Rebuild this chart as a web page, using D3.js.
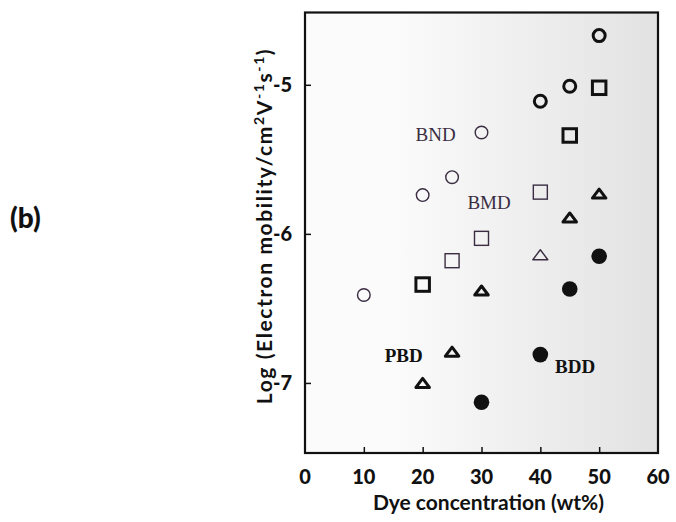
<!DOCTYPE html>
<html>
<head>
<meta charset="utf-8">
<script src="https://cdn.jsdelivr.net/npm/d3@7"></script>
<style>
  body { margin: 0; background: #fff; }
  svg { display: block; }
</style>
</head>
<body>
<div id="chart"></div>
<script>
// dye concentration (wt%) and log mobility
const bndThinX = [10, 20, 25, 30];
const bndThinY = [-6.41, -5.74, -5.62, -5.32];
const bndBoldX = [40, 45, 50];
const bndBoldY = [-5.11, -5.01, -4.67];

const bmdThinX = [25, 30, 40];
const bmdThinY = [-6.18, -6.03, -5.72];
const bmdBoldX = [20, 45, 50];
const bmdBoldY = [-6.34, -5.34, -5.02];

const pbdThinX = [40];
const pbdThinY = [-6.14];
const pbdBoldX = [20, 25, 30, 45, 50];
const pbdBoldY = [-7.0, -6.79, -6.38, -5.89, -5.73];

const bddX = [30, 40, 45, 50];
const bddY = [-7.13, -6.81, -6.37, -6.15];

const xTicks = [0, 10, 20, 30, 40, 50, 60];
const yTicks = [-7, -6, -5];

// series labels: [text, x, y, anchor, bold]
const labels = [
  ["BND", 25.6, -5.38, "end", false],
  ["BMD", 27.6, -5.83, "start", false],
  ["PBD", 20.0, -6.86, "end", true],
  ["BDD", 42.5, -6.93, "start", true]
];

const W = 676, H = 522;
const thin = "#3a2d42", ink = "#111";
const sans = "Lato, 'Open Sans', sans-serif";
const serif = "'Liberation Serif', 'DejaVu Serif', serif";

const svg = d3.select("#chart").append("svg")
  .attr("width", W).attr("height", H);

const x = d3.scaleLinear().domain([0, 60]).range([305, 658]);
const y = d3.scaleLinear().domain([-7.47, -4.515]).range([453, 12.5]);

// grey wash toward the right, like the scanned page
const grad = svg.append("defs").append("linearGradient")
  .attr("id", "wash").attr("x1", "0").attr("x2", "1").attr("y1", "0").attr("y2", "0");
grad.append("stop").attr("offset", "0.25").attr("stop-color", "#fbfbfb");
grad.append("stop").attr("offset", "1").attr("stop-color", "#e2e2e2");

svg.append("rect")
  .attr("x", x(0)).attr("y", y.range()[1])
  .attr("width", x(60) - x(0)).attr("height", y.range()[0] - y.range()[1])
  .attr("fill", "url(#wash)");

// axes with inward ticks
const xAxis = svg.append("g")
  .attr("transform", `translate(0,${y.range()[0]})`)
  .call(d3.axisBottom(x).tickValues(xTicks.slice(1, -1)).tickSize(-6).tickFormat(""));
xAxis.select(".domain").remove();
xAxis.selectAll("line").attr("stroke", ink).attr("stroke-width", 1.5);

const yAxis = svg.append("g")
  .attr("transform", `translate(${x(0)},0)`)
  .call(d3.axisLeft(y).tickValues(yTicks).tickSize(-6).tickFormat(""));
yAxis.select(".domain").remove();
yAxis.selectAll("line").attr("stroke", ink).attr("stroke-width", 1.5);

// frame
svg.append("rect")
  .attr("x", x(0)).attr("y", y.range()[1])
  .attr("width", x(60) - x(0)).attr("height", y.range()[0] - y.range()[1])
  .attr("fill", "none").attr("stroke", ink).attr("stroke-width", 2.2);

// tick labels
svg.append("g").selectAll("text").data(xTicks).join("text")
  .attr("x", d => x(d)).attr("y", 484)
  .attr("text-anchor", "middle")
  .attr("font-family", sans).attr("font-weight", 900).attr("font-size", 20)
  .attr("fill", ink)
  .text(d => d);

svg.append("g").selectAll("text").data(yTicks).join("text")
  .attr("x", 292).attr("y", d => y(d) + 7)
  .attr("text-anchor", "end")
  .attr("font-family", sans).attr("font-weight", 900).attr("font-size", 20)
  .attr("fill", ink)
  .text(d => d);

// axis titles
svg.append("text")
  .attr("x", (x(0) + x(60)) / 2 + 7).attr("y", 510)
  .attr("text-anchor", "middle")
  .attr("font-family", sans).attr("font-weight", 700).attr("font-size", 21)
  .attr("fill", ink)
  .text("Dye concentration (wt%)");

const yt = svg.append("text")
  .attr("transform", "translate(272,226) rotate(-90)")
  .attr("text-anchor", "middle")
  .attr("font-family", sans).attr("font-weight", 700).attr("font-size", 21)
  .attr("letter-spacing", 1.6)
  .attr("fill", ink);
yt.append("tspan").text("Log (Electron mobility/cm");
yt.append("tspan").attr("dy", -8).attr("font-size", 14).text("2");
yt.append("tspan").attr("dy", 8).text("V");
yt.append("tspan").attr("dy", -8).attr("font-size", 14).text("-1");
yt.append("tspan").attr("dy", 8).text("s");
yt.append("tspan").attr("dy", -8).attr("font-size", 14).text("-1");
yt.append("tspan").attr("dy", 8).text(")");

svg.append("text")
  .attr("x", 10).attr("y", 228)
  .attr("font-family", sans).attr("font-weight", 900).attr("font-size", 28)
  .attr("fill", ink)
  .text("(b)");

// markers
const pts = (xs, ys) => xs.map((v, i) => [v, ys[i]]);
const plot = svg.append("g");

function circles(data, r, sw, color, fill) {
  plot.append("g").selectAll("circle").data(data).join("circle")
    .attr("cx", d => x(d[0])).attr("cy", d => y(d[1]))
    .attr("r", r)
    .attr("fill", fill).attr("stroke", color).attr("stroke-width", sw);
}
function squares(data, s, sw, color) {
  plot.append("g").selectAll("rect").data(data).join("rect")
    .attr("x", d => x(d[0]) - s / 2).attr("y", d => y(d[1]) - s / 2)
    .attr("width", s).attr("height", s)
    .attr("fill", "none").attr("stroke", color).attr("stroke-width", sw);
}
function triangles(data, w, h, sw, color) {
  plot.append("g").selectAll("path").data(data).join("path")
    .attr("d", d => {
      const cx = x(d[0]), cy = y(d[1]);
      return `M${cx},${cy - h / 2}L${cx + w / 2},${cy + h / 2}L${cx - w / 2},${cy + h / 2}Z`;
    })
    .attr("fill", "none").attr("stroke", color).attr("stroke-width", sw)
    .attr("stroke-linejoin", "round");
}

circles(pts(bndThinX, bndThinY), 6.3, 1.4, thin, "none");
circles(pts(bndBoldX, bndBoldY), 6, 3, ink, "none");
squares(pts(bmdThinX, bmdThinY), 14, 1.4, thin);
squares(pts(bmdBoldX, bmdBoldY), 13.5, 3, ink);
triangles(pts(pbdThinX, pbdThinY), 15, 10, 1.4, thin);
triangles(pts(pbdBoldX, pbdBoldY), 13.5, 9, 3, ink);
circles(pts(bddX, bddY), 7.8, 0, ink, ink);

// series names
svg.append("g").selectAll("text").data(labels).join("text")
  .attr("x", d => x(d[1])).attr("y", d => y(d[2]))
  .attr("text-anchor", d => d[3])
  .attr("font-family", serif)
  .attr("font-weight", d => d[4] ? 700 : 400)
  .attr("font-size", 19)
  .attr("fill", d => d[4] ? ink : thin)
  .text(d => d[0]);
</script>
</body>
</html>
